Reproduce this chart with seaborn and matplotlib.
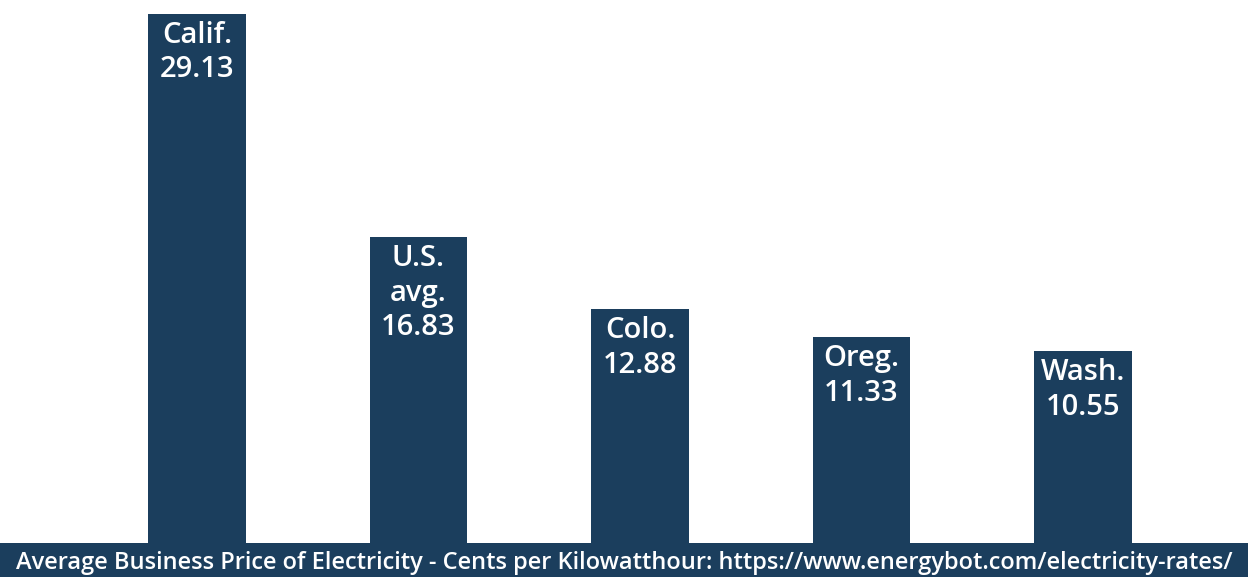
import matplotlib
matplotlib.use("Agg")
import matplotlib.pyplot as plt
import seaborn as sns
import pandas as pd

states = ["Calif.", "U.S.\navg.", "Colo.", "Oreg.", "Wash."]
prices = [29.13, 16.83, 12.88, 11.33, 10.55]
caption = "Average Business Price of Electricity - Cents per Kilowatthour: https://www.energybot.com/electricity-rates/"

BAR = "#1b3e5d"
sns.set_theme(style="white")
plt.rcParams['font.family'] = ['Open Sans', 'DejaVu Sans']

df = pd.DataFrame({"state": states, "price": prices})

fig = plt.figure(figsize=(12.48, 5.77), dpi=100)
band_h = 34 / 577
ax = fig.add_axes([0, band_h, 1, 1 - band_h])
sns.barplot(data=df, x="state", y="price", color=BAR, saturation=1, width=0.44,
            linewidth=0, ax=ax)
ax.set_xlim(-0.889, 4.745)
ax.set_ylim(0, 29.9)
ax.set_axis_off()

for i, (s, v) in enumerate(zip(states, prices)):
    ax.annotate(f"{s}\n{v:.2f}", xy=(i, v), xytext=(0, -5), textcoords="offset points",
                ha="center", va="top", color="white", fontsize=21, fontweight="semibold",
                linespacing=1.25)

band = fig.add_axes([0, 0, 1, band_h])
band.set_facecolor(BAR)
band.set_xticks([]); band.set_yticks([])
for sp in band.spines.values():
    sp.set_visible(False)
band.text(0.5, 0.42, caption, ha="center", va="center", color="white", fontsize=17.0,
          fontweight="semibold", transform=band.transAxes)

fig.savefig("out.png", dpi=100)
